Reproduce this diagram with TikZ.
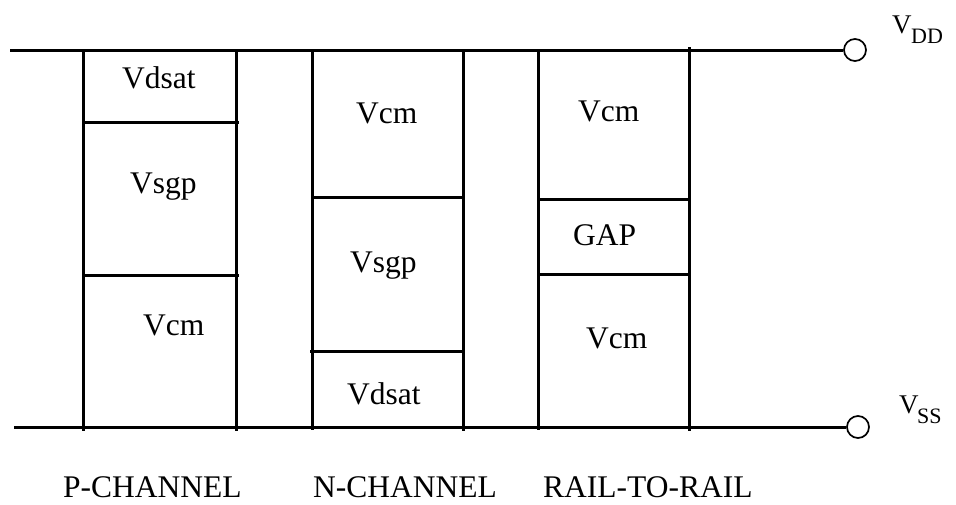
\documentclass[tikz,border=0pt]{standalone}
\usepackage{fontspec}
\setmainfont{Liberation Serif}
\begin{document}
\begin{tikzpicture}[x=1pt,y=-1pt,
    wire/.style={line width=3pt},
    term/.style={circle, draw, line width=1.7pt, minimum size=22pt, inner sep=0pt},
    lbl/.style={anchor=base west, inner sep=0pt, font=\fontsize{31.5}{31.5}\selectfont},
    sup/.style={anchor=base west, inner sep=0pt, font=\fontsize{27}{27}\selectfont},
    sub/.style={anchor=base west, inner sep=0pt, font=\fontsize{22}{22}\selectfont}]
  \useasboundingbox (0,0) rectangle (956,504);

  % supply rails and terminals
  \coordinate (tl) at (10,50);
  \coordinate (bl) at (14,427);
  \node[term] (vdd) at (855,50) {};
  \node[term] (vss) at (858,427) {};
  \draw[wire] (tl) -- (vdd.west);
  \draw[wire] (bl) -- (vss.west);

  % P-channel column
  \draw[wire] (83,50) -- (83,431);
  \draw[wire] (236,50) -- (236,431);
  \draw[wire] (83,122) -- (239,122);
  \draw[wire] (85,275) -- (239,275);

  % N-channel column
  \draw[wire] (312,50) -- (312,430);
  \draw[wire] (463,50) -- (463,431);
  \draw[wire] (312,197) -- (463,197);
  \draw[wire] (310,351) -- (463,351);

  % rail-to-rail column
  \draw[wire] (538,50) -- (538,430);
  \draw[wire] (689,47) -- (689,431);
  \draw[wire] (537,199) -- (689,199);
  \draw[wire] (538,274) -- (689,274);

  % band labels
  \node[lbl] (p1) at (122,88) {Vdsat};
  \node[lbl] (p2) at (130,193) {Vsgp};
  \node[lbl] (p3) at (143,335) {Vcm};
  \node[lbl] (n1) at (356,123) {Vcm};
  \node[lbl] (n2) at (350,272) {Vsgp};
  \node[lbl] (n3) at (347,404) {Vdsat};
  \node[lbl] (r1) at (578,121) {Vcm};
  \node[lbl] (r2) at (573,245) {GAP};
  \node[lbl] (r3) at (586,348) {Vcm};

  % column titles
  \node[lbl] (tp) at (63,497) {P-CHANNEL};
  \node[lbl] (tn) at (313,497) {N-CHANNEL};
  \node[lbl] (tr) at (543,497) {RAIL-TO-RAIL};

  % terminal names
  \node[sup] (vddv) at (892,33) {V};
  \node[sub] (vdds) at (911,43) {DD};
  \node[sup] (vssv) at (899,413) {V};
  \node[sub] (vsss) at (917,423) {SS};
\end{tikzpicture}
\end{document}
